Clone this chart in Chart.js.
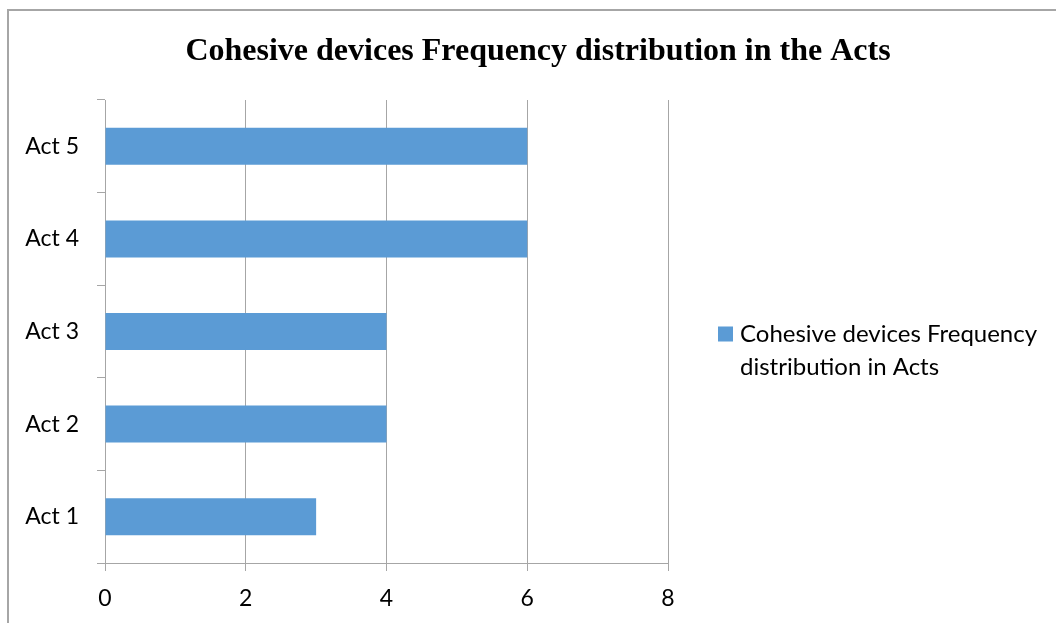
<!DOCTYPE html>
<html>
<head>
<meta charset="utf-8">
<script src="https://cdn.jsdelivr.net/npm/chart.js@4/dist/chart.umd.min.js"></script>
<style>
  html, body { margin: 0; padding: 0; background: #ffffff; }
  #wrap { position: relative; width: 1056px; height: 623px; }
</style>
</head>
<body>
<div id="wrap"><canvas id="chart" width="1056" height="623"></canvas></div>
<script>
// Chart content
const chartTitle = 'Cohesive devices Frequency distribution in the Acts';
const categories = ['Act 1', 'Act 2', 'Act 3', 'Act 4', 'Act 5'];
const frequencies = [3, 4, 4, 6, 6];
const seriesName = 'Cohesive devices Frequency distribution in Acts';
const legendLines = ['Cohesive devices Frequency', 'distribution in Acts'];
const xTickValues = [0, 2, 4, 6, 8];

const BAR_COLOR = '#5b9bd5';
const LINE_COLOR = '#a6a6a6';
const LABEL_FONT = 'Lato, "Open Sans", sans-serif';

// Frame, title and wrapped legend drawn around the plot
const decorations = {
  id: 'decorations',
  beforeDraw(chart) {
    const ctx = chart.ctx;
    ctx.save();
    ctx.strokeStyle = LINE_COLOR;
    ctx.lineWidth = 2;
    ctx.strokeRect(8, 10, chart.width + 20, chart.height + 20);
    ctx.restore();
  },
  afterDraw(chart) {
    const ctx = chart.ctx;
    ctx.save();
    ctx.fillStyle = '#000000';
    ctx.font = 'bold 32px "Liberation Serif", "Times New Roman", serif';
    ctx.textAlign = 'center';
    ctx.textBaseline = 'alphabetic';
    ctx.fillText(chartTitle, 538, 60);

    const area = chart.chartArea;
    const lx = area.right + 50;
    const midY = (area.top + area.bottom) / 2;
    ctx.fillStyle = BAR_COLOR;
    ctx.fillRect(lx, midY - 5, 15, 15);
    ctx.fillStyle = '#000000';
    ctx.font = '24px ' + LABEL_FONT;
    ctx.textAlign = 'left';
    legendLines.forEach((line, i) => {
      ctx.fillText(line, lx + 22, midY + 10 + i * 33);
    });
    ctx.restore();
  }
};

new Chart(document.getElementById('chart'), {
  type: 'bar',
  data: {
    labels: categories,
    datasets: [{
      label: seriesName,
      data: frequencies,
      backgroundColor: BAR_COLOR,
      borderWidth: 0,
      barPercentage: 0.4,
      categoryPercentage: 1.0
    }]
  },
  options: {
    indexAxis: 'y',
    responsive: false,
    animation: false,
    events: [],
    layout: { padding: { left: 0, top: 100, right: 388, bottom: 0 } },
    plugins: {
      legend: { display: false },
      title: { display: false },
      tooltip: { enabled: false }
    },
    scales: {
      x: {
        min: 0,
        max: 8,
        afterFit(scale) { scale.height = 60; },
        afterBuildTicks(scale) { scale.ticks = xTickValues.map(v => ({ value: v })); },
        ticks: {
          color: '#000000',
          font: { family: LABEL_FONT, size: 23 },
          padding: 14
        },
        grid: {
          color: LINE_COLOR,
          lineWidth: 1,
          tickLength: 8,
          drawTicks: true
        },
        border: { display: true, color: LINE_COLOR, width: 1 }
      },
      y: {
        reverse: true,
        afterFit(scale) { scale.width = 105; },
        ticks: {
          color: '#000000',
          font: { family: LABEL_FONT, size: 23 },
          padding: 18
        },
        grid: {
          offset: true,
          drawOnChartArea: false,
          color: LINE_COLOR,
          lineWidth: 1,
          tickLength: 8
        },
        border: { display: true, color: LINE_COLOR, width: 1 }
      }
    }
  },
  plugins: [decorations]
});
</script>
</body>
</html>
